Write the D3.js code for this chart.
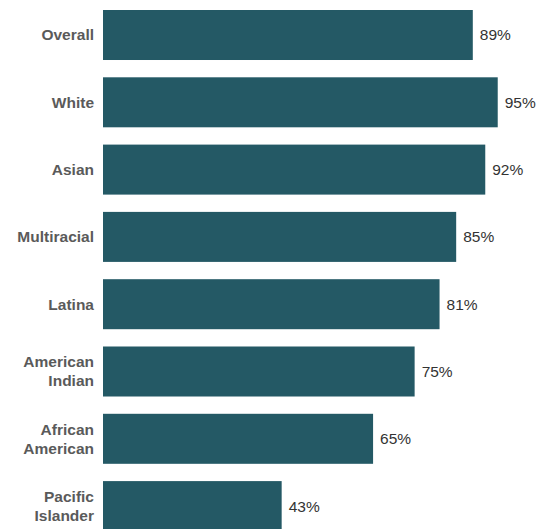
<!DOCTYPE html>
<html><head><meta charset="utf-8">
<script src="https://cdn.jsdelivr.net/npm/d3@7"></script>
<style>body{margin:0;background:#fff;} svg{display:block;}</style>
</head><body>
<svg id="c" width="543" height="529"></svg>
<script>
const categories = ["Overall","White","Asian","Multiracial","Latina","American Indian","African American","Pacific Islander"];
const labelLines = [["Overall"],["White"],["Asian"],["Multiracial"],["Latina"],["American","Indian"],["African","American"],["Pacific","Islander"]];
const values = [89,95,92,85,81,75,65,43];

const svg = d3.select("#c");
const x = d3.scaleLinear().domain([0,100]).range([103,518.5]);
const y = d3.scaleBand().domain(categories).range([10,531.1]).paddingInner(0.257).paddingOuter(0);

svg.selectAll("rect.bar").data(categories).enter().append("rect")
  .attr("class","bar")
  .attr("x", x(0))
  .attr("y", d=>y(d))
  .attr("width", (d,i)=>x(values[i])-x(0))
  .attr("height", y.bandwidth())
  .attr("fill","#245965");

svg.selectAll("text.val").data(categories).enter().append("text")
  .attr("class","val")
  .attr("x",(d,i)=>x(values[i])+7)
  .attr("y",d=>y(d)+y.bandwidth()/2)
  .attr("dy","0.35em")
  .attr("font-family","Liberation Sans, Arial, sans-serif")
  .attr("font-size","15.5px")
  .attr("fill","#333")
  .text((d,i)=>values[i]+"%");

const fs = 15.5;
const lg = svg.selectAll("text.cat").data(categories).enter().append("text")
  .attr("class","cat")
  .attr("x",94)
  .attr("text-anchor","end")
  .attr("font-family","Liberation Sans, Arial, sans-serif")
  .attr("font-size",fs+"px")
  .attr("font-weight","bold")
  .attr("fill","#5a5a5a")
  .attr("y",d=>y(d)+y.bandwidth()/2);
lg.each(function(d,i){
  const lines = labelLines[i];
  const t = d3.select(this);
  const lh = 19;
  lines.forEach((l,j)=>{
    t.append("tspan").attr("x",94)
      .attr("dy", j===0 ? (0.35*fs - (lines.length-1)*lh/2)+"px" : lh+"px")
      .text(l);
  });
});
</script>
</body></html>
